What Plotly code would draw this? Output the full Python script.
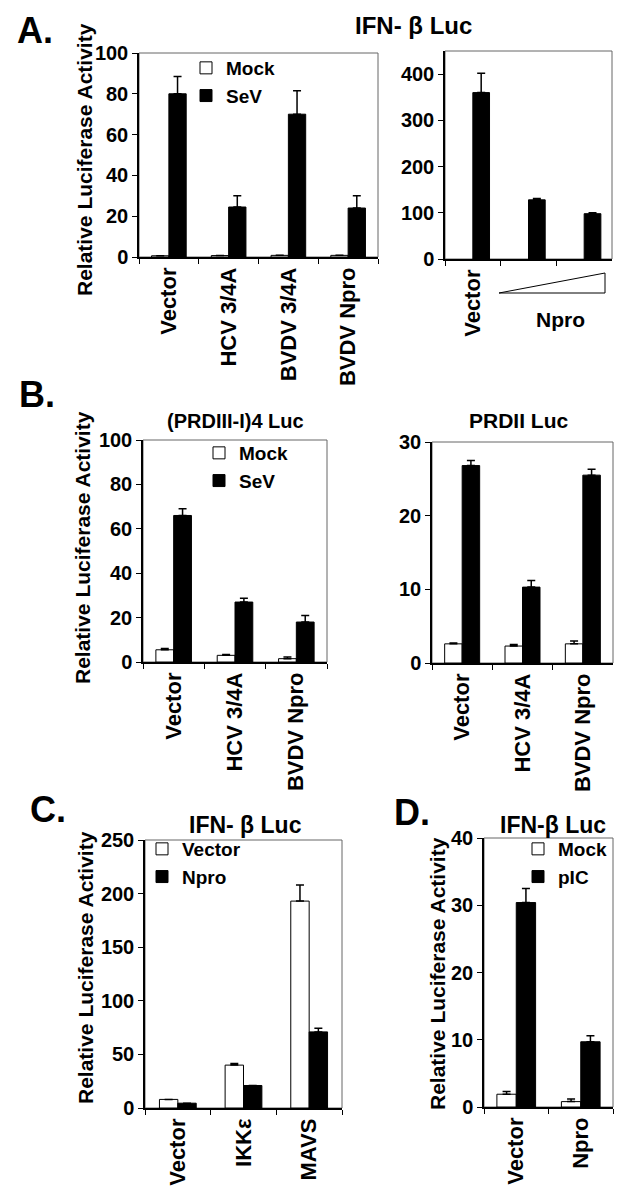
import plotly.graph_objects as go

W, H = 632, 1198
OFF = 8  # the page body adds an 8px margin; positions below are page pixels

# ---- data ----
# A (left): IFN-beta Luc
a_cats = ["Vector", "HCV 3/4A", "BVDV 3/4A", "BVDV Npro"]
a_mock = [0.6, 0.7, 0.8, 0.8]
a_mock_err = [0, 0, 0, 0]
a_sev = [80, 24.5, 70, 24]
a_sev_err = [8.5, 5.5, 11.5, 6]

# A (right): increasing Npro
a2_cats = ["Vector", "Npro low", "Npro high"]
a2_ticks = ["Vector", "", ""]
a2_sev = [360, 128, 98]
a2_sev_err = [42, 3, 2]

# B (left): (PRDIII-I)4 Luc
b_cats = ["Vector", "HCV 3/4A", "BVDV Npro"]
b1_mock = [5.5, 3.0, 1.5]
b1_mock_err = [0.6, 0.4, 0.7]
b1_sev = [66, 27, 18]
b1_sev_err = [3, 1.7, 3]

# B (right): PRDII Luc
b2_mock = [2.6, 2.3, 2.6]
b2_mock_err = [0.1, 0.2, 0.4]
b2_sev = [26.8, 10.3, 25.5]
b2_sev_err = [0.7, 0.9, 0.8]

# C: IFN-beta Luc, Vector vs Npro
c_cats = ["Vector", "IKKε", "MAVS"]
c_vec = [8, 40, 193]
c_vec_err = [0, 1.5, 15]
c_npro = [4.5, 21, 71]
c_npro_err = [0, 0, 3.5]

# D: IFN-beta Luc, Mock vs pIC
d_cats = ["Vector", "Npro"]
d_mock = [1.9, 0.8]
d_mock_err = [0.4, 0.4]
d_pic = [30.4, 9.7]
d_pic_err = [2.1, 0.9]

FONT = "Liberation Sans, Arial, sans-serif"


def px_x(x):
    return (x - OFF) / W


def px_y(y):
    return 1 - (y - OFF) / H


fig = go.Figure()


def add_bars(n, x, y, err, name, color, offset, width, legend=None):
    fig.add_trace(go.Bar(
        x=x, y=y, name=name,
        xaxis=f"x{n}", yaxis=f"y{n}",
        offset=offset, width=width,
        marker=dict(color=color, line=dict(color="black", width=1)),
        error_y=dict(type="data", array=err, arrayminus=[0] * len(err),
                     symmetric=False, color="black", thickness=1.5, width=4),
        showlegend=legend is not None,
        legend=legend or "legend",
    ))


w = 0.29
add_bars(1, a_cats, a_mock, a_mock_err, "Mock", "white", -w, w, "legend")
add_bars(1, a_cats, a_sev, a_sev_err, "SeV", "black", 0, w, "legend")

add_bars(2, a2_cats, a2_sev, a2_sev_err, "SeV", "black", 0, 0.3)

add_bars(3, b_cats, b1_mock, b1_mock_err, "Mock", "white", -w, w, "legend2")
add_bars(3, b_cats, b1_sev, b1_sev_err, "SeV", "black", 0, w, "legend2")

add_bars(4, b_cats, b2_mock, b2_mock_err, "Mock", "white", -w, w)
add_bars(4, b_cats, b2_sev, b2_sev_err, "SeV", "black", 0, w)

add_bars(5, c_cats, c_vec, c_vec_err, "Vector", "white", -0.28, 0.28, "legend3")
add_bars(5, c_cats, c_npro, c_npro_err, "Npro", "black", 0, 0.28, "legend3")

add_bars(6, d_cats, d_mock, d_mock_err, "Mock", "white", -0.3, 0.3, "legend4")
add_bars(6, d_cats, d_pic, d_pic_err, "pIC", "black", 0, 0.3, "legend4")

# panel boxes in pixels: (left, right, top, bottom), y range, dtick, categories, tick text
panels = [
    (139, 378, 53, 257, [0, 100], 20, a_cats, a_cats),
    (445, 612, 51, 259, [0, 450], 100, a2_cats, a2_ticks),
    (143, 327, 440, 662, [0, 100], 20, b_cats, b_cats),
    (432, 613, 442, 663, [0, 30], 10, b_cats, b_cats),
    (145, 342, 840, 1108, [0, 250], 50, c_cats, c_cats),
    (484, 613, 838, 1107, [0, 40], 10, d_cats, d_cats),
]

layout = {}
shapes = []
for i, (l, r, t, b, yr, dt, cats, ticks) in enumerate(panels, start=1):
    xa = "xaxis" if i == 1 else f"xaxis{i}"
    ya = "yaxis" if i == 1 else f"yaxis{i}"
    xid = "x" if i == 1 else f"x{i}"
    yid = "y" if i == 1 else f"y{i}"
    layout[xa] = dict(
        domain=[px_x(l), px_x(r)], anchor=yid, automargin=False,
        type="category", range=[-0.5, len(cats) - 0.5],
        tickmode="array", tickvals=cats, ticktext=ticks,
        tickangle=-90, tickson="boundaries",
        ticks="outside", ticklen=5, tickcolor="black", tickwidth=1,
        showline=True, linecolor="black", linewidth=1.5,
        showgrid=False, zeroline=False,
        tickfont=dict(family=FONT, size=22, color="black", weight="bold"),
    )
    layout[ya] = dict(
        domain=[px_y(b), px_y(t)], anchor=xid, automargin=False,
        range=yr, dtick=dt,
        ticks="outside", ticklen=5, tickcolor="black", tickwidth=1,
        showline=True, linecolor="black", linewidth=1.5,
        showgrid=False, zeroline=False,
        tickfont=dict(family=FONT, size=20, color="black", weight="bold"),
    )
    shapes.append(dict(type="rect", xref=f"{xid} domain", yref=f"{yid} domain",
                       x0=0, x1=1, y0=0, y1=1,
                       line=dict(color="#666666", width=1), layer="below"))

# dose wedge under Npro in panel A right
shapes.append(dict(
    type="path", xref="paper", yref="paper",
    path=f"M {px_x(499)},{px_y(293)} L {px_x(605)},{px_y(273)} "
         f"L {px_x(605)},{px_y(293)} Z",
    line=dict(color="black", width=1), fillcolor="white",
))


def note(text, x, y, size, angle=0):
    return dict(text=text, x=px_x(x), y=px_y(y), xref="paper", yref="paper",
                showarrow=False, textangle=angle, xanchor="center",
                yanchor="middle",
                font=dict(family=FONT, size=size, color="black", weight="bold"))


ytitle = "Relative Luciferase Activity"
annotations = [
    note("A.", 35, 30, 36),
    note("B.", 37, 394, 36),
    note("C.", 48, 809, 36),
    note("D.", 412, 812, 36),
    note("IFN- β Luc", 413, 25, 24),
    note("(PRDIII-I)4 Luc", 235, 421, 20),
    note("PRDII Luc", 518, 421, 21),
    note("IFN- β Luc", 245, 825, 23),
    note("IFN-β Luc", 553, 825, 23),
    note("Npro", 560, 319, 21),
    note(ytitle, 85, 160, 21, -90),
    note(ytitle, 82, 548, 21, -90),
    note(ytitle, 85, 968, 21, -90),
    note(ytitle, 437, 973, 21, -90),
]


def leg(x, y):
    return dict(x=px_x(x), y=px_y(y), xanchor="left", yanchor="top",
                bgcolor="rgba(0,0,0,0)", tracegroupgap=0,
                font=dict(family=FONT, size=19, color="black", weight="bold"))


fig.update_layout(
    width=W, height=H,
    margin=dict(l=0, r=0, t=0, b=0, autoexpand=False),
    paper_bgcolor="white", plot_bgcolor="white",
    barmode="overlay",
    shapes=shapes,
    annotations=annotations,
    legend=leg(186, 49),
    legend2=leg(199, 434),
    legend3=leg(142, 830),
    legend4=leg(518, 830),
    **layout,
)

fig.write_html("out.html")
